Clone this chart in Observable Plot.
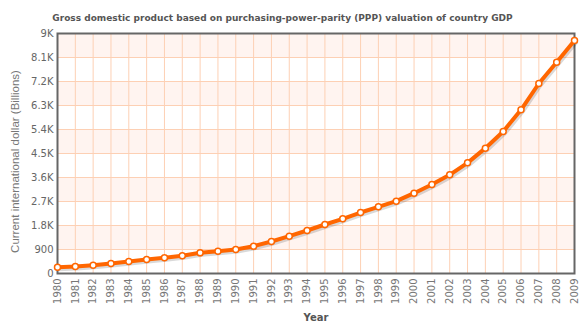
<!DOCTYPE html>
<html>
<head>
<meta charset="utf-8">
<script src="https://cdn.jsdelivr.net/npm/d3@7"></script>
<script src="https://cdn.jsdelivr.net/npm/@observablehq/plot@0.6"></script>
<style>
  html, body { margin: 0; padding: 0; background: #fff; }
  #chart svg { display: block; }
</style>
</head>
<body>
<div id="chart"></div>
<script>
const years = [1980,1981,1982,1983,1984,1985,1986,1987,1988,1989,1990,1991,1992,1993,1994,1995,1996,1997,1998,1999,2000,2001,2002,2003,2004,2005,2006,2007,2008,2009];
const gdp = [236,262,312,375,450,525,588,663,775,838,900,1025,1200,1400,1612,1837,2050,2287,2500,2712,3012,3337,3700,4150,4700,5325,6137,7125,7925,8737];
const yTicks = [0,900,1800,2700,3600,4500,5400,6300,7200,8100,9000];
const yTickLabels = ["0","900","1.8K","2.7K","3.6K","4.5K","5.4K","6.3K","7.2K","8.1K","9K"];
const title = "Gross domestic product based on purchasing-power-parity (PPP) valuation of country GDP";
const xTitle = "Year";
const yTitle = "Current international dollar (Billions)";

const data = years.map((y, i) => ({year: y, value: gdp[i]}));
const bands = [];
for (let i = 1; i < yTicks.length - 1; i += 2) bands.push({y1: yTicks[i], y2: yTicks[i + 1]});

const orange = "#FF6600";
const grid = "#FDD0B4";

const chart = Plot.plot({
  width: 583,
  height: 327,
  marginLeft: 57,
  marginRight: 9,
  marginTop: 33,
  marginBottom: 54,
  style: {fontFamily: "'DejaVu Sans', Verdana, sans-serif", fontSize: "10px", color: "#666", background: "#fff"},
  x: {domain: [1980, 2009], label: null},
  y: {domain: [0, 9000], label: null},
  marks: [
    Plot.rect(bands, {y1: "y1", y2: "y2", fill: "#FFF4F0"}),
    Plot.gridX(years, {stroke: grid, strokeOpacity: 1}),
    Plot.gridY(yTicks, {stroke: grid, strokeOpacity: 1}),
    Plot.frame({stroke: "#666", strokeWidth: 2}),
    Plot.line(data, {x: "year", y: "value", stroke: "#000", strokeOpacity: 0.15, strokeWidth: 4, dx: 1.5, dy: 2}),
    Plot.line(data, {x: "year", y: "value", stroke: orange, strokeWidth: 4}),
    Plot.dot(data, {x: "year", y: "value", r: 3, fill: "#fff", stroke: orange, strokeWidth: 1.5}),
    Plot.axisX(years, {tickSize: 0, tickPadding: 5, tickRotate: -90, tickFormat: d => String(d), fill: "#777", label: null}),
    Plot.axisY(yTicks, {tickSize: 0, tickPadding: 4, tickFormat: d => yTickLabels[yTicks.indexOf(d)], fill: "#666", label: null}),
    Plot.text([title], {frameAnchor: "top-left", dx: 282 - 57, dy: -19, textAnchor: "middle", fontWeight: "bold", fontSize: 9, fill: "#555", fontFamily: "'DejaVu Sans', sans-serif"}),
    Plot.text([xTitle], {frameAnchor: "bottom", dy: 47, fontWeight: "bold", fontSize: 10, fill: "#555"}),
    Plot.text([yTitle], {frameAnchor: "left", dx: -42, dy: 8, rotate: -90, textAnchor: "middle", fontSize: 11.5, fill: "#777", fontFamily: "'Liberation Sans', Arial, sans-serif"})
  ]
});
document.getElementById("chart").appendChild(chart);
</script>
</body>
</html>
